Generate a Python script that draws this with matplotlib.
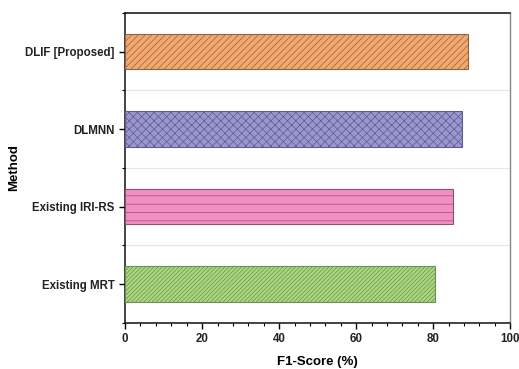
import matplotlib

matplotlib.use("Agg")

import matplotlib.pyplot as plt  # noqa: E402
from matplotlib.ticker import MultipleLocator  # noqa: E402

methods = ["Existing MRT", "Existing IRI-RS", "DLMNN", "DLIF [Proposed]"]
f1_scores = [80.6, 85.1, 87.6, 89.0]
colors = ["#a9d97a", "#f290c4", "#9a96d2", "#f5a76c"]
edge_colors = ["#6f8f58", "#8f4f70", "#5f5c85", "#8c6446"]
hatches = ["////////", "--", "xxxx", "/////"]

plt.rcParams["font.family"] = ["Liberation Sans", "DejaVu Sans"]
plt.rcParams["font.weight"] = "bold"
plt.rcParams["hatch.linewidth"] = 0.5
plt.rcParams["text.color"] = "#222222"

fig, ax = plt.subplots(figsize=(5.19, 3.69), dpi=100)
fig.subplots_adjust(left=0.241, right=0.983, top=0.965, bottom=0.125)

positions = list(range(len(methods)))
bars = ax.barh(positions, f1_scores, height=0.46, color=colors,
               edgecolor=edge_colors, linewidth=0.8, zorder=3)
for bar, hatch in zip(bars, hatches):
    bar.set_hatch(hatch)

ax.set_xlim(0, 100)
ax.set_ylim(-0.5, 3.5)
ax.set_yticks(positions)
ax.set_yticklabels(methods, fontsize=8.3, fontweight="bold", color="#222222")
ax.yaxis.set_minor_locator(MultipleLocator(1, offset=0.5))
ax.grid(which="minor", axis="y", color="#e6e6e6", linewidth=0.8, zorder=0)

ax.xaxis.set_major_locator(MultipleLocator(20))
ax.xaxis.set_minor_locator(MultipleLocator(4))
for label in ax.get_xticklabels():
    label.set_fontsize(8.3)
    label.set_fontweight("bold")
    label.set_color("#222222")

ax.tick_params(axis="both", which="major", direction="out", length=4, width=1.0)
ax.tick_params(axis="both", which="minor", direction="out", length=2, width=0.8)

ax.set_xlabel("F1-Score (%)", fontsize=9.5, fontweight="bold", labelpad=8)
ax.set_ylabel("Method", fontsize=9.5, fontweight="bold", labelpad=4)

for side in ["left", "bottom", "top"]:
    ax.spines[side].set_linewidth(1.1)
    ax.spines[side].set_color("#111111")
ax.spines["right"].set_color("#888888")
ax.spines["right"].set_linewidth(1.0)

fig.savefig("out.png", dpi=100)
plt.close(fig)
